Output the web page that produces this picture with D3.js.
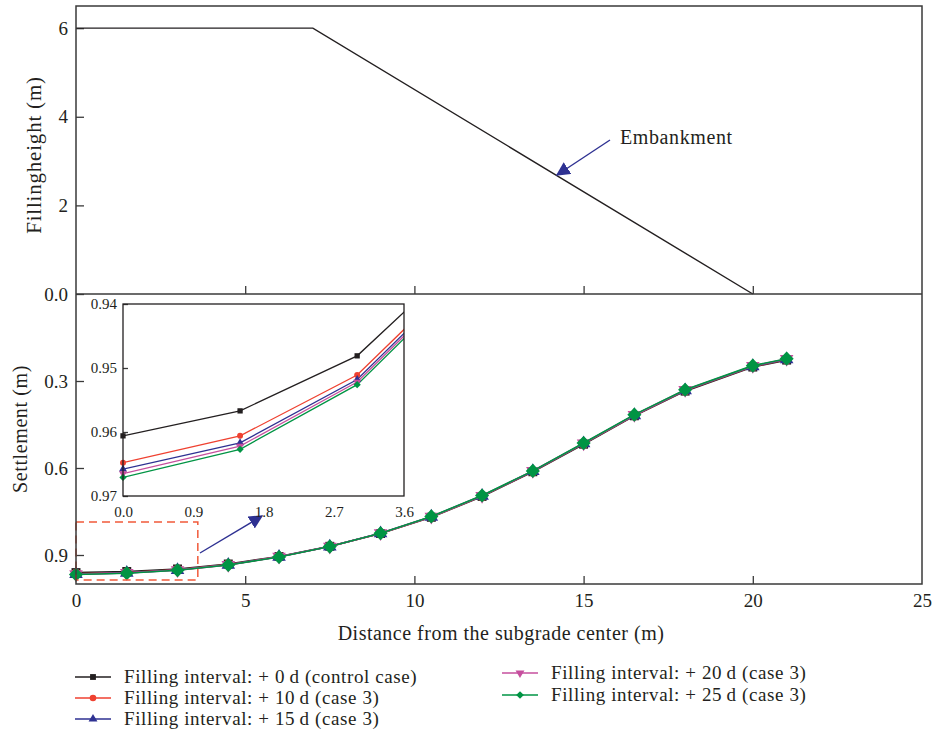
<!DOCTYPE html>
<html>
<head>
<meta charset="utf-8">
<script src="https://cdn.jsdelivr.net/npm/d3@7"></script>
<style>
  body { margin: 0; background: #fff; }
  svg { font-family: "Liberation Serif", "DejaVu Serif", serif; }
  .frame { fill: none; stroke: #3a3a3a; stroke-width: 1.5; }
  .axis path { display: none; }
  .axis line { stroke: #3a3a3a; stroke-width: 1.3; }
  .axis text { fill: #231f20; font-family: "Liberation Serif", serif; }
</style>
</head>
<body>
<svg id="chart" width="934" height="737"></svg>
<script>
// Embankment profile
const embX = [0, 7, 20];
const embH = [6, 6, 0];

// Settlement curves
const distance = [0, 1.5, 3, 4.5, 6, 7.5, 9, 10.5, 12, 13.5, 15, 16.5, 18, 20, 21];
const settle0 = [0.9606, 0.9567, 0.9481, 0.931, 0.905, 0.870, 0.826, 0.770, 0.698, 0.613, 0.518, 0.420, 0.335, 0.252, 0.228];
const settle10 = [0.9648, 0.9606, 0.9511, 0.9333, 0.906, 0.871, 0.826, 0.769, 0.697, 0.612, 0.516, 0.419, 0.333, 0.250, 0.226];
const settle15 = [0.9658, 0.9617, 0.9518, 0.9338, 0.906, 0.871, 0.825, 0.768, 0.696, 0.611, 0.515, 0.418, 0.332, 0.249, 0.225];
const settle20 = [0.9665, 0.9622, 0.9522, 0.9342, 0.906, 0.871, 0.825, 0.768, 0.696, 0.610, 0.515, 0.417, 0.331, 0.248, 0.224];
const settle25 = [0.9671, 0.9627, 0.9526, 0.9346, 0.907, 0.871, 0.825, 0.767, 0.695, 0.610, 0.514, 0.416, 0.330, 0.247, 0.223];

const seriesLabels = [
  'Filling interval: + 0\u2009d (control case)',
  'Filling interval: + 10\u2009d (case 3)',
  'Filling interval: + 15\u2009d (case 3)',
  'Filling interval: + 20\u2009d (case 3)',
  'Filling interval: + 25\u2009d (case 3)',
];

const xTicks = [0, 5, 10, 15, 20, 25];
const hTicks = [2, 4, 6];
const sTicks = [0, 0.3, 0.6, 0.9];
const insetXTicks = [0, 0.9, 1.8, 2.7, 3.6];
const insetYTicks = [0.94, 0.95, 0.96, 0.97];

const colors = ['#231f20', '#ef4130', '#2e3192', '#c64f9e', '#009444'];
const symbols = ['square', 'circle', 'triUp', 'triDown', 'diamond'];

const series = [settle0, settle10, settle15, settle20, settle25].map((vals, i) => ({
  label: seriesLabels[i],
  color: colors[i],
  symbol: symbols[i],
  values: vals.map((v, j) => ({ x: distance[j], y: v })),
}));

const svg = d3.select('#chart');
const left = 76, right = 922;
const topT = 6, topB = 294, botB = 584;

const x = d3.scaleLinear().domain([0, 25]).range([left, right]);
const yH = d3.scaleLinear().domain([0, 6.5]).range([topB, topT]);
const yS = d3.scaleLinear().domain([0, 1]).range([topB, botB]);

// marker shapes; diamond is a square turned 45 degrees
const symType = { square: d3.symbolSquare, circle: d3.symbolCircle, triUp: d3.symbolTriangle, triDown: d3.symbolTriangle, diamond: d3.symbolSquare };
const symRot = { square: 0, circle: 0, triUp: 0, triDown: 180, diamond: 45 };
function symbolPath(sym, size) {
  return d3.symbol(symType[sym], size)();
}
function markerTransform(sym, px, py) {
  return `translate(${px},${py}) rotate(${symRot[sym]})`;
}

// ---------- top panel ----------
const topG = svg.append('g');
topG.append('g').attr('class', 'axis')
  .attr('transform', `translate(${left},0)`)
  .call(d3.axisLeft(yH).tickValues(hTicks).tickSize(-8).tickPadding(8).tickFormat(d3.format('d')))
  .selectAll('text').style('font-size', '19px');
topG.append('g').attr('class', 'axis')
  .attr('transform', `translate(0,${topB})`)
  .call(d3.axisBottom(x).tickValues([5, 10, 15, 20]).tickSize(-8).tickFormat(''));

topG.append('path')
  .datum(embX.map((v, i) => [v, embH[i]]))
  .attr('fill', 'none')
  .attr('stroke', '#231f20')
  .attr('stroke-width', 1.4)
  .attr('d', d3.line().x(d => x(d[0])).y(d => yH(d[1])));

svg.append('defs').html(`
  <marker id="ah" viewBox="0 0 10 10" refX="9" refY="5" markerWidth="14" markerHeight="14" markerUnits="userSpaceOnUse" orient="auto">
    <path d="M0,0 L10,5 L0,10 z" fill="#2e3192"/>
  </marker>
  <clipPath id="insetClip"><rect x="123" y="304" width="281" height="192"/></clipPath>
`);

topG.append('line')
  .attr('x1', 610).attr('y1', 140).attr('x2', 557).attr('y2', 175)
  .attr('stroke', '#2e3192').attr('stroke-width', 1.4)
  .attr('marker-end', 'url(#ah)');
topG.append('text')
  .attr('x', 620).attr('y', 144)
  .style('font-size', '20px').style('letter-spacing', '0.6px').attr('fill', '#231f20')
  .text('Embankment');

topG.append('text')
  .attr('transform', `translate(41,${(topT + topB) / 2 + 5}) rotate(-90)`)
  .attr('text-anchor', 'middle')
  .style('font-size', '21px').style('letter-spacing', '0.8px').attr('fill', '#231f20')
  .text('Fillingheight (m)');

// ---------- bottom panel ----------
const botG = svg.append('g');
botG.append('g').attr('class', 'axis')
  .attr('transform', `translate(${left},0)`)
  .call(d3.axisLeft(yS).tickValues(sTicks).tickSize(-8).tickPadding(8).tickFormat(d3.format('.1f')))
  .selectAll('text').style('font-size', '19px');
const xAx = botG.append('g').attr('class', 'axis')
  .attr('transform', `translate(0,${botB})`)
  .call(d3.axisBottom(x).tickValues(xTicks).tickSize(-8).tickPadding(10).tickFormat(d3.format('d')));
xAx.selectAll('text').style('font-size', '19px');
xAx.selectAll('.tick line').filter(d => d === 0 || d === 25).remove();

botG.append('text')
  .attr('x', (left + right) / 2 + 2).attr('y', 640)
  .attr('text-anchor', 'middle')
  .style('font-size', '20px').style('letter-spacing', '0.5px').attr('fill', '#231f20')
  .text('Distance from the subgrade center (m)');
botG.append('text')
  .attr('transform', `translate(27,${(topB + botB) / 2 - 10}) rotate(-90)`)
  .attr('text-anchor', 'middle')
  .style('font-size', '20px').style('letter-spacing', '0.6px').attr('fill', '#231f20')
  .text('Settlement (m)');

const line = d3.line().x(d => x(d.x)).y(d => yS(d.y));
series.forEach(s => {
  const g = botG.append('g');
  g.append('path').datum(s.values)
    .attr('fill', 'none').attr('stroke', s.color).attr('stroke-width', 1.6)
    .attr('d', line);
  g.selectAll('path.m').data(s.values).join('path')
    .attr('class', 'm')
    .attr('d', symbolPath(s.symbol, s.symbol === 'diamond' ? 100 : 80))
    .attr('transform', d => markerTransform(s.symbol, x(d.x), yS(d.y)))
    .attr('fill', s.color);
});

// zoom box and arrow
botG.append('rect')
  .attr('x', x(0)).attr('y', yS(0.786))
  .attr('width', x(3.6) - x(0)).attr('height', yS(0.986) - yS(0.786))
  .attr('fill', 'none').attr('stroke', '#f15a3a').attr('stroke-width', 1.5)
  .attr('stroke-dasharray', '8,5');
botG.append('line')
  .attr('x1', 200).attr('y1', 553).attr('x2', 262).attr('y2', 516)
  .attr('stroke', '#2e3192').attr('stroke-width', 1.4)
  .attr('marker-end', 'url(#ah)');

// ---------- inset ----------
const ix = d3.scaleLinear().domain([0, 3.6]).range([123, 404]);
const iy = d3.scaleLinear().domain([0.94, 0.97]).range([304, 496]);
const inset = svg.append('g');
inset.append('rect').attr('x', 123).attr('y', 304).attr('width', 281).attr('height', 192)
  .attr('fill', '#fff');
inset.append('g').attr('class', 'axis')
  .attr('transform', 'translate(123,0)')
  .call(d3.axisLeft(iy).tickValues(insetYTicks).tickSize(-5).tickPadding(6).tickFormat(d3.format('.2f')))
  .selectAll('text').style('font-size', '15px');
inset.append('g').attr('class', 'axis')
  .attr('transform', 'translate(0,496)')
  .call(d3.axisBottom(ix).tickValues(insetXTicks).tickSize(0).tickPadding(10).tickFormat(d3.format('.1f')))
  .selectAll('text').style('font-size', '15px');

const iline = d3.line().x(d => ix(d.x)).y(d => iy(d.y));
const insetData = inset.append('g').attr('clip-path', 'url(#insetClip)');
series.forEach(s => {
  insetData.append('path').datum(s.values.filter(d => d.x <= 4.5))
    .attr('fill', 'none').attr('stroke', s.color).attr('stroke-width', 1.3)
    .attr('d', iline);
});
series.forEach(s => {
  inset.selectAll(null).data(s.values.filter(d => d.x <= 3.6)).join('path')
    .attr('d', symbolPath(s.symbol, s.symbol === 'diamond' ? 26 : 28))
    .attr('transform', d => markerTransform(s.symbol, ix(d.x), iy(d.y)))
    .attr('fill', s.color);
});
inset.append('rect').attr('class', 'frame')
  .attr('x', 123).attr('y', 304).attr('width', 281).attr('height', 192)
  .style('stroke', '#231f20').style('stroke-width', 1.3);

// ---------- frames ----------
svg.append('rect').attr('class', 'frame')
  .attr('x', left).attr('y', topT).attr('width', right - left).attr('height', botB - topT);
svg.append('line').attr('x1', left).attr('x2', right).attr('y1', topB).attr('y2', topB)
  .attr('stroke', '#3a3a3a').attr('stroke-width', 1.5);

// ---------- legend ----------
const legendPos = [
  { x: 75, y: 677 }, { x: 75, y: 698 }, { x: 75, y: 719 },
  { x: 502, y: 673 }, { x: 502, y: 695 },
];
const legend = svg.append('g');
series.forEach((s, i) => {
  const p = legendPos[i];
  const g = legend.append('g').attr('transform', `translate(${p.x},${p.y})`);
  g.append('line').attr('x1', 0).attr('x2', 36).attr('stroke', s.color).attr('stroke-width', 1.6);
  g.append('path')
    .attr('d', symbolPath(s.symbol, s.symbol === 'diamond' ? 30 : 34))
    .attr('transform', markerTransform(s.symbol, 18, 0))
    .attr('fill', s.color);
  g.append('text').attr('x', 49).attr('y', 6)
    .style('font-size', '19px').style('letter-spacing', '0.6px').attr('fill', '#231f20')
    .text(s.label);
});
</script>
</body>
</html>
